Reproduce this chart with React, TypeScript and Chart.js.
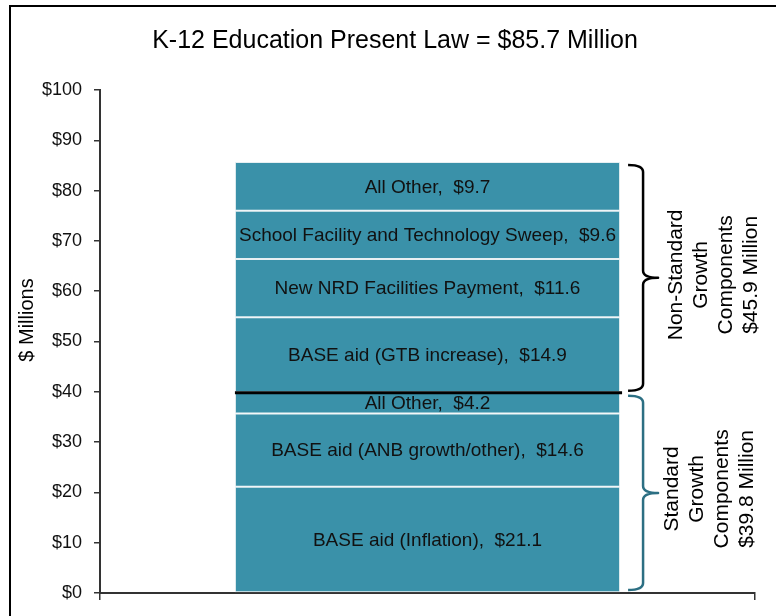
import React, { useEffect, useRef } from "react";
import { Chart, registerables } from "chart.js";

Chart.register(...registerables);

const categories = ["K-12 Education"];
const segmentNames = [
  "BASE aid (Inflation)",
  "BASE aid (ANB growth/other)",
  "All Other",
  "BASE aid (GTB increase)",
  "New NRD Facilities Payment",
  "School Facility and Technology Sweep",
  "All Other",
];
const segmentValues = [21.1, 14.6, 4.2, 14.9, 11.6, 9.6, 9.7];
const yMin = 0;
const yMax = 100;
const yStep = 10;
const standardTotal = 39.8;
const presentLawTotal = 85.7;
const chartTitle = "K-12 Education Present Law = $85.7 Million";
const yAxisTitle = "$ Millions";
const nonStandardText = ["Non-Standard", "Growth", "Components", "$45.9 Million"];
const standardText = ["Standard", "Growth", "Components", "$39.8 Million"];

const FONT = "'Liberation Sans', Arial, Helvetica, sans-serif";
const BAR_COLOR = "#3A91A9";
const STD_BRACE_COLOR = "#2C6F83";

function drawBrace(
  ctx: CanvasRenderingContext2D,
  xTip: number,
  xSpine: number,
  xCusp: number,
  yTop: number,
  yBottom: number,
  color: string,
  lw: number
) {
  const r = 7;
  const yMid = (yTop + yBottom) / 2;
  ctx.save();
  ctx.strokeStyle = color;
  ctx.lineWidth = lw;
  ctx.lineJoin = "round";
  ctx.beginPath();
  ctx.moveTo(xTip, yTop);
  ctx.quadraticCurveTo(xSpine, yTop, xSpine, yTop + r);
  ctx.lineTo(xSpine, yMid - r);
  ctx.quadraticCurveTo(xSpine, yMid, xCusp, yMid);
  ctx.quadraticCurveTo(xSpine, yMid, xSpine, yMid + r);
  ctx.lineTo(xSpine, yBottom - r);
  ctx.quadraticCurveTo(xSpine, yBottom, xTip, yBottom);
  ctx.stroke();
  ctx.restore();
  return yMid;
}

function drawRotatedLines(
  ctx: CanvasRenderingContext2D,
  lines: string[],
  x0: number,
  yCenter: number,
  step: number
) {
  ctx.save();
  ctx.fillStyle = "#000";
  ctx.font = `21px ${FONT}`;
  ctx.textAlign = "center";
  ctx.textBaseline = "middle";
  lines.forEach((line, i) => {
    ctx.save();
    ctx.translate(x0 + i * step, yCenter);
    ctx.rotate(-Math.PI / 2);
    ctx.fillText(line, 0, 0);
    ctx.restore();
  });
  ctx.restore();
}

const annotationPlugin = {
  id: "annotations",
  afterDatasetsDraw(chart: any) {
    const ctx: CanvasRenderingContext2D = chart.ctx;
    const y = chart.scales.y;
    // segment labels
    ctx.save();
    ctx.fillStyle = "#111";
    ctx.font = `19px ${FONT}`;
    ctx.textAlign = "center";
    ctx.textBaseline = "middle";
    let barLeft = 0;
    let barRight = 0;
    chart.data.datasets.forEach((ds: any, i: number) => {
      const meta = chart.getDatasetMeta(i);
      const el = meta.data[0];
      if (!el) return;
      const { x, y: yTop, base, width } = el.getProps(["x", "y", "base", "width"], true);
      barLeft = x - width / 2;
      barRight = x + width / 2;
      const label = `${ds.label},  $${ds.data[0].toFixed(1)}`;
      ctx.fillText(label, x, (yTop + base) / 2 + 1);
    });
    ctx.restore();

    // divider line between standard / non-standard
    const yDiv = y.getPixelForValue(standardTotal);
    ctx.save();
    ctx.strokeStyle = "#000";
    ctx.lineWidth = 3;
    ctx.beginPath();
    ctx.moveTo(barLeft, yDiv);
    ctx.lineTo(barRight + 2, yDiv);
    ctx.stroke();
    ctx.restore();

    // braces
    const xTip = barRight + 8;
    const xSpine = barRight + 23;
    const xCusp = barRight + 38;
    const nsMid = drawBrace(
      ctx,
      xTip,
      xSpine,
      xCusp,
      y.getPixelForValue(presentLawTotal) + 3,
      y.getPixelForValue(standardTotal) - 2,
      "#000",
      2.5
    );
    const sMid = drawBrace(
      ctx,
      xTip,
      xSpine,
      xCusp,
      y.getPixelForValue(standardTotal) + 3,
      y.getPixelForValue(0) - 3,
      STD_BRACE_COLOR,
      2.5
    );
    drawRotatedLines(ctx, nonStandardText, xSpine + 33, nsMid - 3, 25);
    drawRotatedLines(ctx, standardText, xSpine + 29, sMid - 4, 25);
  },
  afterDraw(chart: any) {
    const ctx: CanvasRenderingContext2D = chart.ctx;
    ctx.save();
    // outer frame (left + top edges visible)
    ctx.strokeStyle = "#000";
    ctx.lineWidth = 2;
    ctx.beginPath();
    ctx.moveTo(10, chart.height + 5);
    ctx.lineTo(10, 6);
    ctx.lineTo(chart.width + 5, 6);
    ctx.stroke();
    // title
    ctx.fillStyle = "#000";
    ctx.font = `25px ${FONT}`;
    ctx.textAlign = "center";
    ctx.textBaseline = "middle";
    ctx.fillText(chartTitle, 395, 41);
    // y axis title
    ctx.font = `20px ${FONT}`;
    ctx.translate(27, 320);
    ctx.rotate(-Math.PI / 2);
    ctx.fillText(yAxisTitle, 0, 0);
    ctx.restore();
  },
};

export default function App() {
  const canvasRef = useRef<HTMLCanvasElement | null>(null);

  useEffect(() => {
    if (!canvasRef.current) return;
    const chart = new Chart(canvasRef.current, {
      type: "bar",
      data: {
        labels: categories,
        datasets: segmentValues.map((v, i) => ({
          label: segmentNames[i],
          data: [v],
          backgroundColor: BAR_COLOR,
          borderColor: "#E6EFF2",
          borderWidth: 1,
          borderSkipped: false,
          barPercentage: 0.588,
          categoryPercentage: 1,
        })),
      },
      options: {
        responsive: false,
        animation: false,
        events: [],
        layout: { padding: { top: 90, right: 21, bottom: 0, left: 0 } },
        plugins: {
          legend: { display: false },
          title: { display: false },
          tooltip: { enabled: false },
        },
        scales: {
          x: {
            stacked: true,
            offset: true,
            afterFit: (scale: any) => {
              scale.height = 23;
            },
            grid: {
              display: true,
              drawOnChartArea: false,
              drawTicks: true,
              tickLength: 7,
              offset: true,
              color: "#333",
              lineWidth: 1.5,
            },
            border: { display: true, color: "#333", width: 2 },
            ticks: { display: false },
          },
          y: {
            stacked: true,
            min: yMin,
            max: yMax,
            afterFit: (scale: any) => {
              scale.width = 100;
            },
            grid: {
              display: true,
              drawOnChartArea: false,
              drawTicks: true,
              tickLength: 6,
              color: "#333",
              lineWidth: 1.5,
            },
            border: { display: true, color: "#333", width: 2 },
            ticks: {
              stepSize: yStep,
              padding: 12,
              color: "#111",
              font: { family: FONT, size: 18 },
              callback: (v: any) => `$${v}`,
            },
          },
        },
      },
      plugins: [annotationPlugin],
    } as any);
    return () => chart.destroy();
  }, []);

  return (
    <div
      style={{
        position: "fixed",
        left: 0,
        top: 0,
        width: 776,
        height: 616,
        overflow: "hidden",
        background: "#fff",
      }}
    >
      <canvas
        ref={canvasRef}
        width={776}
        height={616}
        style={{ display: "block", width: 776, height: 616 }}
      />
    </div>
  );
}
